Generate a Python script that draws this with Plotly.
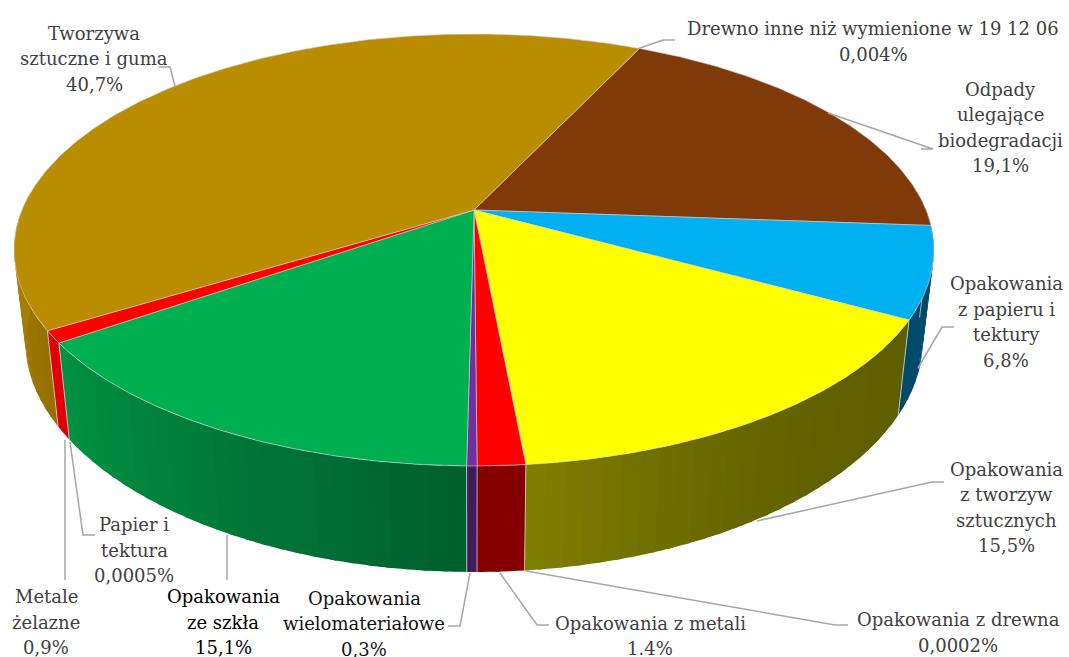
import math
import plotly.graph_objects as go

# clockwise from the brown slice
categories = ["Odpady<br>ulegające<br>biodegradacji", "Opakowania<br>z papieru i<br>tektury",
              "Opakowania<br>z tworzyw<br>sztucznych", "Opakowania z drewna", "Opakowania z metali",
              "Opakowania<br>wielomateriałowe", "Opakowania<br>ze szkła", "Metale<br>żelazne",
              "Papier i<br>tektura", "Tworzywa<br>sztuczne i guma", "Drewno inne niż wymienione w 19 12 06"]
values = [19.1, 6.8, 15.5, 0.0002, 1.4, 0.3, 15.1, 0.9, 0.0005, 40.7, 0.004]
value_labels = ["19,1%", "6,8%", "15,5%", "0,0002%", "1.4%", "0,3%", "15,1%", "0,9%", "0,0005%", "40,7%", "0,004%"]
top_colors = ["#803A0A", "#00B0F0", "#FFFF00", "#C55A11", "#FF0000", "#7030A0", "#00B050", "#FF0000",
              "#FFC000", "#BA8C00", "#A5A5A5"]
side_right = [(90, 40, 8), (0, 74, 107), (95, 95, 0), (133, 0, 0), (133, 0, 0), (63, 27, 91), (0, 96, 46),
              (224, 0, 10), (224, 0, 10), (150, 112, 0), (150, 112, 0)]
side_left = [(90, 40, 8), (0, 74, 107), (128, 128, 0), (128, 128, 0), (133, 0, 0), (63, 27, 91), (0, 146, 66),
             (224, 0, 10), (224, 0, 10), (176, 132, 0), (176, 132, 0)]
gradient_power = [1, 1, 2.5, 1, 1, 1, 1, 1, 1, 1, 1]
text_colors = ["#404040", "#404040", "#404040", "#404040", "#404040", "#111111", "#000000", "#404040",
               "#404040", "#404040", "#404040"]
label_xy = [(1000, 127.5), (1006, 322), (1006, 507.5), (958, 632.5), (650, 636), (364, 623.5), (223, 622), (46, 622),
            (134, 550), (94, 58.5), (873, 41.5)]
leaders = [[(921, 149), (933, 149), (828, 113)], [(954, 327), (942, 327), (918, 368)],
           [(944, 482), (932, 482), (757, 521)], [(848, 625), (835, 625), (526, 571)],
           [(549, 625), (537, 625), (500, 573)], [(448, 626), (460, 626), (470, 573)],
           [(227, 580), (227, 535)], [(65, 580), (65, 440)], [(95, 535), (83, 535), (70, 442)],
           [(159, 67), (170, 67), (175, 86)], [(675, 40), (663, 40), (637, 49)]]

CX, CY, R, S, K = 474, 210, 452, 208.6, 0.185
START = 25.3
SQUEEZE, DROP, DROP_V = 0.975, 92, 14
LINE_STEP = 25.5


def top_point(deg):
    a = math.radians(deg)
    u, v = math.sin(a), -math.cos(a)
    w = 1 - K * v
    return CX + R * u / w, CY + S * v / w


def bottom_point(deg):
    x, y = top_point(deg)
    v = -math.cos(math.radians(deg))
    return CX + (x - CX) * SQUEEZE, y + DROP + DROP_V * max(v, 0) ** 2


def rgb(c):
    return "rgb(%d,%d,%d)" % tuple(round(k) for k in c)


total = sum(values)
edges = [START]
for val in values:
    edges.append(edges[-1] + val / total * 360)

fig = go.Figure()
# sides
for i in range(len(values)):
    a0, a1 = edges[i], edges[i + 1]
    lo, hi = max(a0, 85), min(a1, 275)
    if hi <= lo:
        continue
    n = max(1, int((hi - lo) / 2))
    for j in range(n):
        s0 = lo + (hi - lo) * j / n
        s1 = min(hi, lo + (hi - lo) * (j + 1) / n + 0.6)
        t = ((j + 0.5) / n) ** gradient_power[i]
        col = [side_right[i][k] + (side_left[i][k] - side_right[i][k]) * t for k in range(3)]
        steps = [s0 + (s1 - s0) * q / 4 for q in range(5)]
        pts = [top_point(s) for s in steps] + [bottom_point(s) for s in reversed(steps)]
        fig.add_trace(go.Scatter(x=[p[0] for p in pts], y=[p[1] for p in pts], mode="none", fill="toself",
                                 fillcolor=rgb(col), hoverinfo="skip", showlegend=False))
    if 85 < a0 < 275 and values[i] > 0.1:
        p, q = top_point(a0), bottom_point(a0)
        fig.add_trace(go.Scatter(x=[p[0], q[0]], y=[p[1], q[1]], mode="lines", hoverinfo="skip", showlegend=False,
                                 line=dict(color="#D0D0D0", width=0.8)))
# tops
for i in range(len(values)):
    a0, a1 = edges[i], edges[i + 1]
    n = max(2, int((a1 - a0) * 2))
    pts = [(CX, CY)] + [top_point(a0 + (a1 - a0) * j / n) for j in range(n + 1)] + [(CX, CY)]
    fig.add_trace(go.Scatter(x=[p[0] for p in pts], y=[p[1] for p in pts], mode="lines", fill="toself",
                             fillcolor=top_colors[i], name=categories[i].replace("<br>", " "),
                             line=dict(color="#D0D0D0", width=0.6 if values[i] > 0.1 else 0), showlegend=False))
# leaders
for seg in leaders:
    fig.add_trace(go.Scatter(x=[p[0] for p in seg], y=[p[1] for p in seg], mode="lines", hoverinfo="skip",
                             showlegend=False, line=dict(color="#A6A6A6", width=1.5)))
# labels, one annotation per line for the exact line spacing
for i in range(len(values)):
    lines = categories[i].split("<br>") + [value_labels[i]]
    first = label_xy[i][1] - LINE_STEP * (len(lines) - 1) / 2
    for j, line in enumerate(lines):
        fig.add_annotation(x=label_xy[i][0], y=first + j * LINE_STEP, text=line,
                           showarrow=False, align="center", xanchor="center", yanchor="middle",
                           font=dict(family="DejaVu Serif", size=18, color=text_colors[i]))

fig.update_layout(width=1069, height=657, margin=dict(l=0, r=0, t=0, b=0), paper_bgcolor="white",
                  plot_bgcolor="white", showlegend=False,
                  xaxis=dict(range=[0, 1069], visible=False, fixedrange=True),
                  yaxis=dict(range=[657, 0], visible=False, fixedrange=True))
fig.write_html("out.html", config=dict(displayModeBar=False),
               post_script="document.body.style.margin='0';document.body.style.overflow='hidden';")
